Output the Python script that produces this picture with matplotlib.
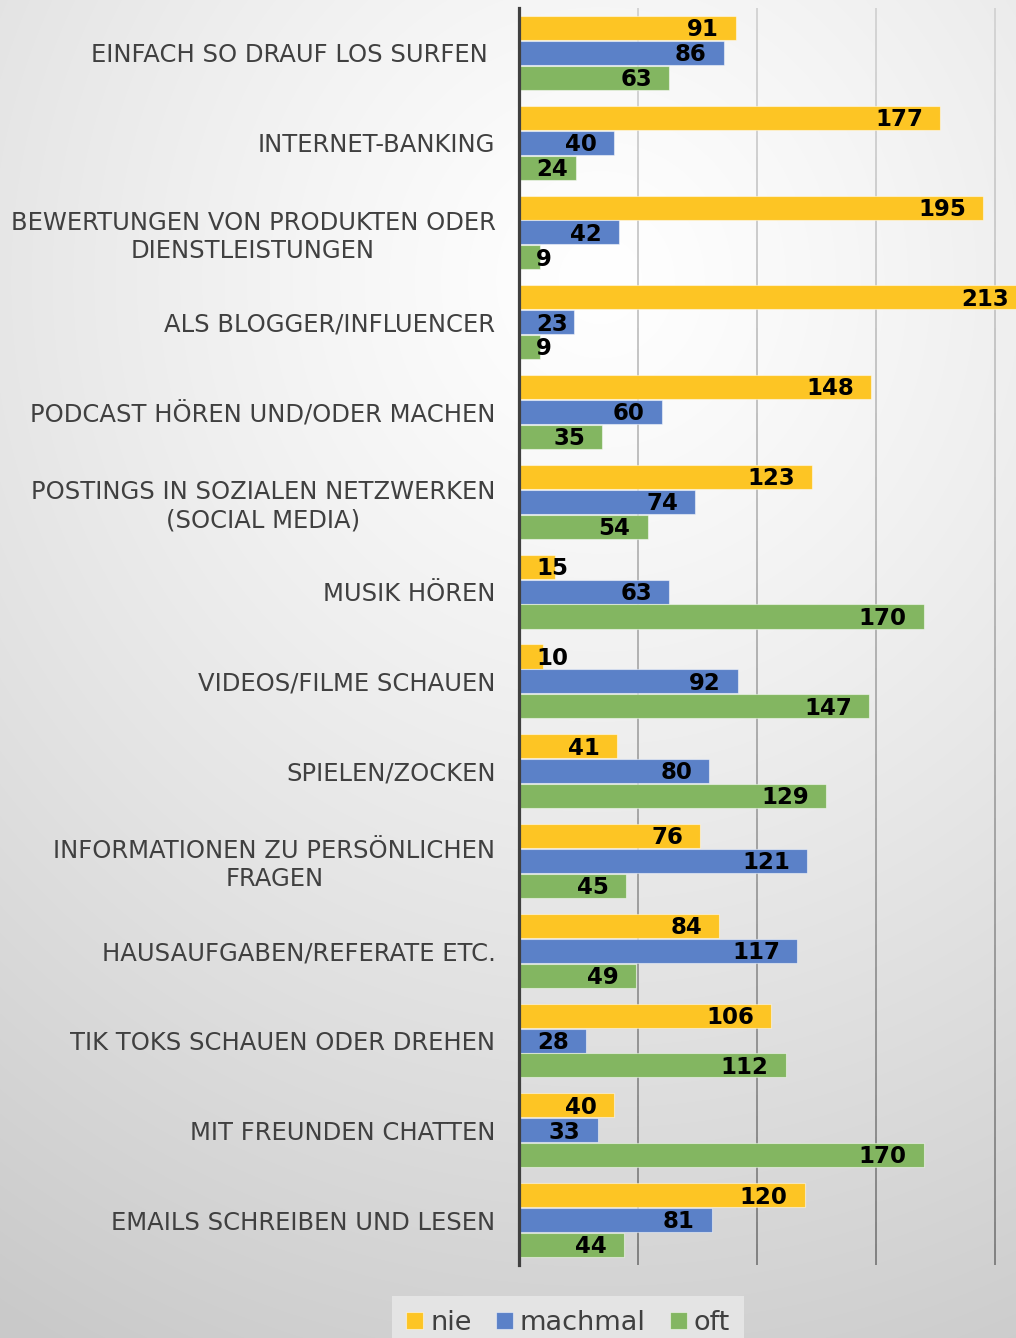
import numpy as np
import matplotlib
matplotlib.use("Agg")
import matplotlib.pyplot as plt
from matplotlib.collections import LineCollection

# Data
categories = [
    "EINFACH SO DRAUF LOS SURFEN ",
    "INTERNET-BANKING",
    "BEWERTUNGEN VON PRODUKTEN ODER\nDIENSTLEISTUNGEN",
    "ALS BLOGGER/INFLUENCER",
    "PODCAST HÖREN UND/ODER MACHEN",
    "POSTINGS IN SOZIALEN NETZWERKEN\n(SOCIAL MEDIA)",
    "MUSIK HÖREN",
    "VIDEOS/FILME SCHAUEN",
    "SPIELEN/ZOCKEN",
    "INFORMATIONEN ZU PERSÖNLICHEN\nFRAGEN",
    "HAUSAUFGABEN/REFERATE ETC.",
    "TIK TOKS SCHAUEN ODER DREHEN",
    "MIT FREUNDEN CHATTEN",
    "EMAILS SCHREIBEN UND LESEN",
]
nie = [91, 177, 195, 213, 148, 123, 15, 10, 41, 76, 84, 106, 40, 120]
machmal = [86, 40, 42, 23, 60, 74, 63, 92, 80, 121, 117, 28, 33, 81]
oft = [63, 24, 9, 9, 35, 54, 170, 147, 129, 45, 49, 112, 170, 44]
grid_x = [50, 100, 150, 200]

series = [("nie", nie, "#FDC524"), ("machmal", machmal, "#5B81C8"), ("oft", oft, "#83B661")]

W, H = 1016, 1338
fig = plt.figure(figsize=(W / 100, H / 100), dpi=100)

# radial gradient background
bg = fig.add_axes([0, 0, 1, 1], zorder=-10)
yy, xx = np.mgrid[0:H, 0:W]
r = np.sqrt((xx - 600) ** 2 + ((yy - 280) / 1.05) ** 2)
r = np.clip(r / 1150, 0, 1)
shade = 1.0 - 0.21 * r ** 1.2
bg.imshow(np.dstack([shade] * 3), extent=[0, 1, 0, 1], aspect="auto")
bg.axis("off")

left_px, top_px, bottom_px = 519, 8, 1265
scale = 2.38  # px per unit
ax = fig.add_axes([left_px / W, (H - bottom_px) / H, 1 - left_px / W, (bottom_px - top_px) / H])
ax.patch.set_alpha(0)

n = len(categories)
y = np.arange(n)

# vertical gridlines, lighter at the top, darker at the bottom
ys = np.linspace(-0.5, n - 0.5, 60)
for gx in grid_x:
    segs = [[(gx, ys[k]), (gx, ys[k + 1])] for k in range(len(ys) - 1)]
    t = (ys[:-1] + 0.5) / n
    g = 0.83 - 0.33 * t ** 1.3
    cols = [(v, v, v) for v in g]
    ax.add_collection(LineCollection(segs, colors=cols, linewidths=1.4, zorder=1))

offsets = [-0.277, 0.0, 0.277]
h = 0.268
for (name, vals, col), off in zip(series, offsets):
    ax.barh(y + off, vals, height=h, color=col, edgecolor=(1, 1, 1, 0.5), linewidth=0.8,
            zorder=3, label=name, clip_on=False)
    for yi, v in zip(y, vals):
        wpx = 16 * len(str(v))
        xpx = max(v * scale - 17, 17 + wpx)
        ax.text(xpx / scale, yi + off + 0.02, str(v), ha="right", va="center",
                fontsize=16.5, fontweight="bold", color="black", zorder=5, clip_on=False)

ax.set_xlim(0, (W - left_px) / scale)
ax.set_ylim(n - 0.5, -0.5)
ax.set_xticks([])
ax.tick_params(axis="y", length=0, pad=17)
ax.set_yticks(y)
ax.set_yticklabels(categories, fontsize=17.5, color="#404040", multialignment="center")
for s in ["top", "right", "bottom"]:
    ax.spines[s].set_visible(False)
ax.spines["left"].set_color("#404040")
ax.spines["left"].set_linewidth(2.3)
ax.spines["left"].set_zorder(6)

# legend at the bottom
leg = fig.legend(loc="upper center", bbox_to_anchor=(568 / W, 34 / H), bbox_transform=fig.transFigure,
                 ncol=3, frameon=True, fontsize=19.5, handlelength=0.62, handleheight=0.62,
                 handletextpad=0.25, columnspacing=0.9, borderpad=0.23, borderaxespad=0)
leg.get_frame().set_facecolor("#e4e4e4")
leg.get_frame().set_edgecolor("none")
leg.get_frame().set_boxstyle("square")
leg.get_frame().set_alpha(1)
for t in leg.get_texts():
    t.set_color("#404040")

fig.savefig("out.png", dpi=100)
